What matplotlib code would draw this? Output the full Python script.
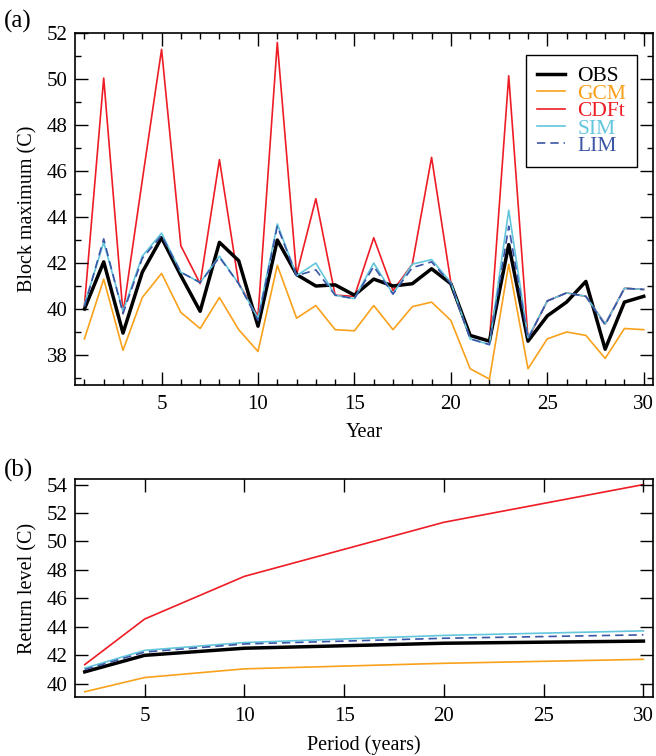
import matplotlib as mpl
mpl.use('Agg')

import numpy as np
import matplotlib.pyplot as plt
from matplotlib.ticker import MultipleLocator

# ---- data ----
years = np.arange(1, 31)

obs = [40.0, 42.05, 38.95, 41.6, 43.1, 41.45, 39.9, 42.9, 42.1, 39.25,
       43.0, 41.5, 41.0, 41.05, 40.6, 41.3, 41.0, 41.1, 41.75, 41.1,
       38.85, 38.6, 42.8, 38.6, 39.7, 40.3, 41.2, 38.25, 40.3, 40.55]
gcm = [38.7, 41.3, 38.2, 40.5, 41.55, 39.85, 39.15, 40.5, 39.1, 38.15,
       41.9, 39.6, 40.15, 39.1, 39.05, 40.15, 39.1, 40.1, 40.3, 39.5,
       37.4, 36.95, 41.95, 37.4, 38.7, 39.0, 38.85, 37.85, 39.15, 39.1]
cdft = [40.15, 50.05, 39.8, 45.6, 51.3, 42.75, 41.1, 46.5, 41.1, 39.7,
        51.6, 41.5, 44.8, 40.6, 40.55, 43.1, 40.8, 41.95, 46.6, 41.15,
        38.85, 38.6, 50.15, 38.7, 40.35, 40.7, 40.55, 39.35, 40.9, 40.85]
sim = [40.2, 42.9, 39.9, 42.3, 43.3, 41.6, 41.15, 42.3, 41.1, 39.6,
       43.7, 41.45, 42.0, 40.6, 40.45, 42.0, 40.65, 41.95, 42.15, 41.15,
       38.7, 38.45, 44.3, 38.75, 40.35, 40.7, 40.55, 39.35, 40.9, 40.85]
lim = [40.1, 43.05, 39.8, 42.2, 43.2, 41.6, 41.15, 42.25, 41.1, 39.5,
       43.6, 41.45, 41.7, 40.6, 40.45, 41.85, 40.65, 41.8, 42.05, 41.1,
       38.7, 38.45, 43.6, 38.7, 40.35, 40.7, 40.55, 39.3, 40.9, 40.85]

periods = [2, 5, 10, 20, 30]
rl_obs = [40.84, 42.0, 42.5, 42.85, 43.0]
rl_gcm = [39.44, 40.44, 41.05, 41.44, 41.72]
rl_cdft = [41.35, 44.55, 47.55, 51.35, 54.0]
rl_sim = [41.1, 42.35, 42.9, 43.4, 43.72]
rl_lim = [41.0, 42.23, 42.8, 43.2, 43.44]

names = ['OBS', 'GCM', 'CDFt', 'SIM', 'LIM']
colors = ['black', '#F9A11B', '#EE1C25', '#62C6DC', '#3A56A6']


def set_style():
    plt.rc('font', family='Liberation Serif', size=15)
    mpl.rcParams['xtick.direction'] = 'in'
    mpl.rcParams['ytick.direction'] = 'in'
    mpl.rcParams['xtick.top'] = True
    mpl.rcParams['ytick.right'] = True
    mpl.rcParams['xtick.major.size'] = 9.5
    mpl.rcParams['ytick.major.size'] = 9.5
    mpl.rcParams['xtick.minor.size'] = 4.5
    mpl.rcParams['ytick.minor.size'] = 4.5
    mpl.rcParams['xtick.major.width'] = 1.0
    mpl.rcParams['ytick.major.width'] = 1.0
    mpl.rcParams['xtick.minor.width'] = 1.0
    mpl.rcParams['ytick.minor.width'] = 1.0
    mpl.rcParams['axes.linewidth'] = 1.2
    mpl.rcParams['xtick.major.pad'] = 7
    mpl.rcParams['ytick.major.pad'] = 5
    mpl.rcParams['xtick.labelsize'] = 15
    mpl.rcParams['ytick.labelsize'] = 15
    mpl.rcParams['axes.labelsize'] = 14.5


def draw(ax, x, series, thick=2.5, thin=1.2):
    for name, y, c in zip(names, series, colors):
        lw = thick if name == 'OBS' else thin
        ls = (0, (5, 3)) if name == 'LIM' else '-'
        z = {'OBS': 2, 'GCM': 3, 'CDFt': 1, 'SIM': 4, 'LIM': 5}[name]
        ax.plot(x, y, color=c, lw=lw, ls=ls, label=name, zorder=z)


set_style()
fig = plt.figure(figsize=(6.56, 7.56), dpi=100)

# panel (a)
ax1 = fig.add_axes([0.114, 0.491, 0.882, 0.465])
draw(ax1, years, [obs, gcm, cdft, sim, lim])
ax1.set_xlim(0.5, 30.5)
ax1.set_ylim(36.7, 52)
ax1.xaxis.set_major_locator(MultipleLocator(5))
ax1.xaxis.set_minor_locator(MultipleLocator(1))
ax1.yaxis.set_major_locator(MultipleLocator(2))
ax1.yaxis.set_minor_locator(MultipleLocator(1))
ax1.set_xlabel('Year', labelpad=7)
ax1.set_ylabel('Block maximum (C)', labelpad=7)
leg = ax1.legend(loc='upper right', bbox_to_anchor=(0.972, 0.9375),
                 borderaxespad=0, fancybox=False, framealpha=1,
                 edgecolor='black', handlelength=1.3, handletextpad=0.6,
                 labelspacing=-0.12, borderpad=0.5, fontsize=15.5)
leg.get_frame().set_linewidth(1.0)
for t, c in zip(leg.get_texts(), colors):
    t.set_color(c)
fig.text(0.006, 0.971, '(a)', fontsize=18, va='center')

# panel (b)
ax2 = fig.add_axes([0.114, 0.078, 0.882, 0.288])
draw(ax2, periods, [rl_obs, rl_gcm, rl_cdft, rl_sim, rl_lim])
ax2.set_xlim(1.5, 30.5)
ax2.set_ylim(39.07, 54.37)
ax2.xaxis.set_major_locator(MultipleLocator(5))
ax2.yaxis.set_major_locator(MultipleLocator(2))
ax2.set_xlabel('Period (years)', labelpad=7)
ax2.set_ylabel('Return level (C)', labelpad=7)
fig.text(0.006, 0.378, '(b)', fontsize=18, va='center')

plt.savefig('out.png', dpi=100)
